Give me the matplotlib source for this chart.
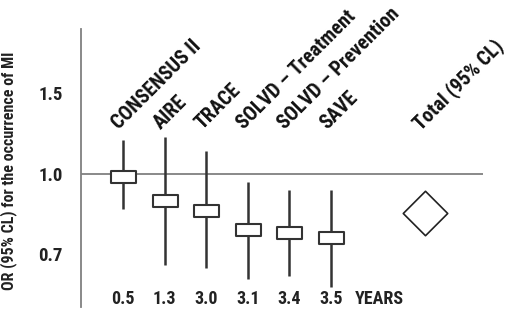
import numpy as np
import matplotlib
matplotlib.use("Agg")
import matplotlib.pyplot as plt
from matplotlib.path import Path
from matplotlib import font_manager

# trial data
studies = ["CONSENSUS II", "AIRE", "TRACE", "SOLVD \u2013 Treatment", "SOLVD \u2013 Prevention", "SAVE"]
years = ["0.5", "1.3", "3.0", "3.1", "3.4", "3.5"]
odds_ratio = [0.99, 0.90, 0.86, 0.79, 0.78, 0.76]
ci_low = [0.87, 0.66, 0.65, 0.61, 0.62, 0.58]
ci_high = [1.21, 1.23, 1.14, 0.97, 0.94, 0.94]
total_label = "Total (95% CL)"
total_or = 0.856
y_ticks = [0.7, 1.0, 1.5]

# pick a condensed bold face, something like Helvetica Condensed Bold
bold_faces = {f.name for f in font_manager.fontManager.ttflist if f.weight >= 700}
font = "DejaVu Sans"
for cand in ["Roboto Condensed", "Archivo Narrow", "Liberation Sans Narrow",
             "Barlow Condensed", "Asap Condensed", "Saira SemiCondensed"]:
    if cand in bold_faces:
        font = cand
        break
plt.rcParams["font.family"] = [font, "DejaVu Sans"]
plt.rcParams["font.weight"] = "bold"

# the axis in the reference is evenly spaced between 0.7, 1.0 and 1.5
knots_v = [0.1, 0.7, 1.0, 1.5, 3.0]
knots_p = [-2.0, 0.0, 1.0, 2.0, 5.0]


def forward(v):
    return np.interp(v, knots_v, knots_p)


def inverse(p):
    return np.interp(p, knots_p, knots_v)


box = Path([(-1, -0.5), (1, -0.5), (1, 0.5), (-1, 0.5), (-1, -0.5)],
           [Path.MOVETO, Path.LINETO, Path.LINETO, Path.LINETO, Path.CLOSEPOLY])
diamond = Path([(0, 1), (1, 0), (0, -1), (-1, 0), (0, 1)],
               [Path.MOVETO, Path.LINETO, Path.LINETO, Path.LINETO, Path.CLOSEPOLY])

fig = plt.figure(figsize=(5.10, 3.12), dpi=100)
ax = fig.add_axes([0.1588, 0.016, 0.7882, 0.891])
ax.set_yscale("function", functions=(forward, inverse))

x = np.arange(len(studies))
total_x = len(studies) + 1.25

ax.axhline(1.0, color="#808080", lw=1.3, zorder=1)
ax.vlines(x, ci_low, ci_high, color="#333333", lw=1.8, zorder=2)
ax.plot(x, odds_ratio, ls="none", marker=box, markersize=18, mfc="white",
        mec="#333333", mew=1.5, zorder=3)
ax.plot([total_x], [total_or], ls="none", marker=diamond, markersize=32, mfc="white",
        mec="#222222", mew=1.2, zorder=3)

ax.set_xlim(-1.01, 8.65)
ax.set_ylim(0.504, 1.9)

for s in ["top", "right", "bottom"]:
    ax.spines[s].set_visible(False)
ax.spines["left"].set_color("#808080")
ax.spines["left"].set_linewidth(1.3)

ax.set_xticks([])
ax.set_yticks(y_ticks)
ax.set_yticklabels([f"{t:.1f}" for t in y_ticks], fontsize=13.5, fontweight="bold")
ax.yaxis.set_minor_locator(matplotlib.ticker.NullLocator())
ax.tick_params(axis="y", length=0, pad=13, colors="#222222")
ax.set_ylabel("OR (95% CL) for the occurrence of MI", fontsize=11.5, fontweight="bold",
              color="#222222")
ax.yaxis.set_label_coords(-0.159, 0.489)

# study names along the top, rotated
for xi, name in zip(x, studies):
    ax.text(xi - 0.1, 1.27, name, rotation=45, rotation_mode="anchor", ha="left",
            va="baseline", fontsize=14.5, fontweight="bold", color="#111111")
ax.text(total_x - 0.1, 1.27, total_label, rotation=45, rotation_mode="anchor", ha="left",
        va="baseline", fontsize=14.5, fontweight="bold", color="#111111")

# follow-up years along the bottom
trans = matplotlib.transforms.blended_transform_factory(ax.transData, ax.transAxes)
for xi, yr in zip(x, years):
    ax.text(xi, 0.03, yr, transform=trans, ha="center", va="center", fontsize=13,
            fontweight="bold", color="#222222")
ax.text(len(studies) + 0.15, 0.03, "YEARS", transform=trans, ha="center", va="center",
        fontsize=13, fontweight="bold", color="#222222")

fig.savefig("out.png", dpi=100)
